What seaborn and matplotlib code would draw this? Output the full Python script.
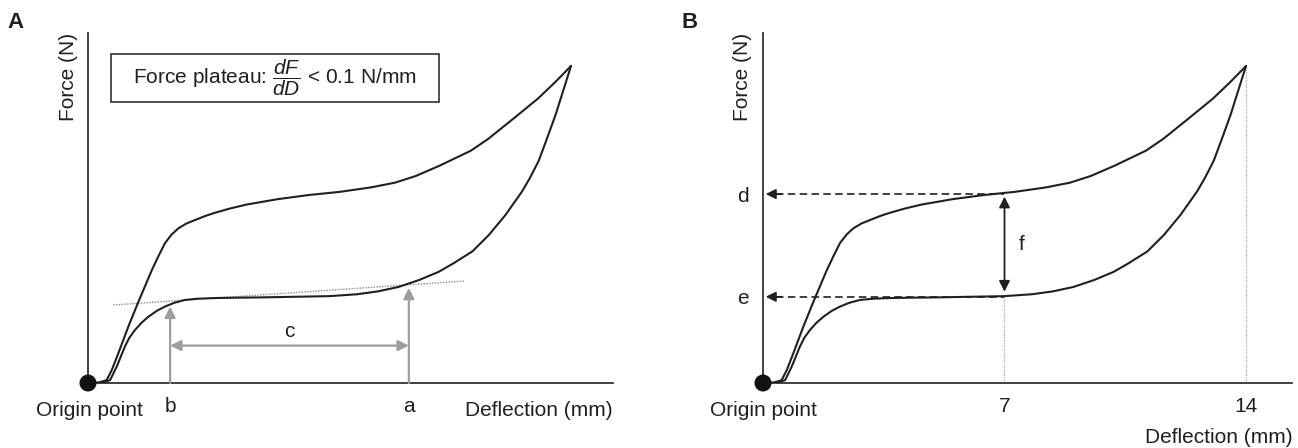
import matplotlib
matplotlib.use("Agg")
import matplotlib.pyplot as plt
import seaborn as sns
import pandas as pd
from matplotlib.patches import Rectangle

# ---------------- data (deflection in mm, force in arbitrary units) ----------------
load_x = [0.0, 0.3, 0.54, 0.69, 0.88, 1.17, 1.46, 1.85, 2.05, 2.23, 2.42, 2.62, 2.85,
          3.1, 3.4, 3.68, 4.1, 4.6, 5.5, 6.4, 7.3, 8.2, 8.9, 9.5, 10.2, 11.1, 11.6,
          12.4, 13.05, 13.55, 14.0]
load_f = [0.0, 0.1, 0.9, 4.1, 9.4, 17.8, 25.6, 35.6, 40.2, 44.1, 46.8, 48.8, 50.3,
          51.4, 52.7, 53.7, 55.0, 56.3, 58.0, 59.3, 60.3, 61.7, 63.2, 65.3, 68.6, 73.3,
          77.0, 84.0, 89.8, 95.0, 100.0]
unload_x = [14.0, 13.84, 13.55, 13.3, 13.06, 12.8, 12.58, 12.1, 11.62, 11.14, 10.6,
            10.17, 9.6, 9.0, 8.4, 7.8, 7.0, 6.0, 5.0, 4.2, 3.68, 3.2, 2.81, 2.5, 2.23,
            2.0, 1.75, 1.55, 1.36, 1.2, 1.07, 0.83, 0.64, 0.4, 0.0]
unload_f = [100.0, 94.5, 84.5, 77.0, 70.0, 64.5, 60.4, 53.0, 46.7, 41.5, 37.8, 35.1,
            32.5, 30.3, 28.9, 28.0, 27.4, 27.2, 27.0, 26.9, 26.8, 26.6, 26.2, 25.3,
            24.1, 22.8, 20.9, 19.0, 16.7, 14.3, 11.5, 5.1, 0.9, 0.1, 0.0]

tangent_x = [0.73, 10.93]
tangent_f = [24.6, 32.2]

plateau_pos = [2.38, 9.30]          # b, a
plateau_labels = ["b", "a"]
plateau_tips = [24.1, 30.0]
c_level = 11.8

b_ticks = [7, 14]
b_tick_labels = ["7", "14"]
guide_tops = [27.2, 100.0]           # dotted guides at 7 and 14
level_values = [59.6, 27.2]          # d, e
level_labels = ["d", "e"]
level_tip_x = 0.08
f_x = 7.0
f_span = [58.8, 28.8]

# ---------------- style ----------------
sns.set_theme(style="white")
plt.rcParams["font.family"] = ["Liberation Sans", "DejaVu Sans"]
plt.rcParams["mathtext.fontset"] = "custom"
plt.rcParams["mathtext.rm"] = "Liberation Sans"
plt.rcParams["mathtext.it"] = "Liberation Sans:italic"

FS = 15
INK = "#231f20"
GRAY = "#9d9d9d"

W, H = 1298, 448
fig = plt.figure(figsize=(W / 100, H / 100), dpi=100)
fig.patch.set_facecolor("white")

px_per_mm = 34.5
px_per_f = 3.17
axA = fig.add_axes([88 / W, 65 / H, 525 / W, 350 / H])
axB = fig.add_axes([763 / W, 65 / H, 529 / W, 350 / H])

load_df = pd.DataFrame({"x": load_x, "f": load_f})
unload_df = pd.DataFrame({"x": unload_x, "f": unload_f})

for ax, wpx in ((axA, 525), (axB, 529)):
    ax.set_facecolor("white")
    sns.lineplot(data=load_df, x="x", y="f", sort=False, estimator=None, color=INK,
                 lw=1.5, ax=ax, zorder=3)
    sns.lineplot(data=unload_df, x="x", y="f", sort=False, estimator=None, color=INK,
                 lw=1.5, ax=ax, zorder=3)
    sns.scatterplot(x=[0.0], y=[0.0], s=150, color="#111111", edgecolor="none",
                    ax=ax, zorder=6, clip_on=False)
    ax.set_xlim(0, wpx / px_per_mm)
    ax.set_ylim(0, 350 / px_per_f)
    for s in ("top", "right"):
        ax.spines[s].set_visible(False)
    for s in ("left", "bottom"):
        ax.spines[s].set_color(INK)
        ax.spines[s].set_linewidth(1.2)
    ax.set_xlabel("")
    ax.set_ylabel("")
    ax.tick_params(axis="both", length=0, labelsize=FS, colors=INK, pad=10)

# ---------------- panel A ----------------
axA.set_yticks([])
axA.set_xticks(plateau_pos, plateau_labels)
sns.lineplot(x=tangent_x, y=tangent_f, ax=axA, color="#8a8a8a", lw=1.0,
             linestyle=(0, (1, 1)), zorder=2)
for xp, tip in zip(plateau_pos, plateau_tips):
    axA.annotate("", xy=(xp, tip), xytext=(xp, 0),
                 arrowprops=dict(arrowstyle="-|>", color=GRAY, lw=1.6,
                                 mutation_scale=16, shrinkA=0, shrinkB=0))
axA.annotate("", xy=(plateau_pos[1], c_level), xytext=(plateau_pos[0], c_level),
             arrowprops=dict(arrowstyle="<|-|>", color=GRAY, lw=1.6,
                             mutation_scale=16, shrinkA=0, shrinkB=0))
axA.text(sum(plateau_pos) / 2, c_level + 1.6, "c", ha="center", va="bottom",
         fontsize=FS, color=INK)

axA.add_patch(Rectangle((0.0433, 0.804), 0.6252, 0.136, transform=axA.transAxes,
                        fill=True, facecolor="white", edgecolor=INK, lw=1.1,
                        clip_on=False, zorder=4))
axA.text(0.356, 0.872, r"Force plateau: $\dfrac{dF}{dD}$ < 0.1 N/mm",
         transform=axA.transAxes, ha="center", va="center", fontsize=FS,
         color=INK, zorder=5)

# ---------------- panel B ----------------
axB.set_xticks(b_ticks, b_tick_labels)
axB.set_yticks(level_values, level_labels)
for xv, top in zip(b_ticks, guide_tops):
    axB.vlines(xv, 0, top, colors="#a8a8a8", lw=0.9, linestyles=(0, (1, 1)), zorder=1)
for lv in level_values:
    axB.hlines(lv, level_tip_x + 0.3, f_x, colors=INK, lw=1.2,
               linestyles=(0, (4.5, 2.6)), zorder=2)
    axB.annotate("", xy=(level_tip_x, lv), xytext=(level_tip_x + 0.45, lv),
                 arrowprops=dict(arrowstyle="-|>", color=INK, lw=1.2,
                                 mutation_scale=15, shrinkA=0, shrinkB=0))
axB.annotate("", xy=(f_x, f_span[0]), xytext=(f_x, f_span[1]),
             arrowprops=dict(arrowstyle="<|-|>", color=INK, lw=1.3,
                             mutation_scale=16, shrinkA=0, shrinkB=0))
axB.text(f_x + 0.5, (f_span[0] + f_span[1]) / 2, "f", ha="center", va="center",
         fontsize=FS, color=INK)

# ---------------- labels ----------------
def ft(xp, yp, s, **kw):
    kw.setdefault("fontsize", FS)
    kw.setdefault("color", INK)
    fig.text(xp / W, 1 - yp / H, s, **kw)

ft(15, 23, "A", fontsize=16, fontweight="bold", ha="center", va="center")
ft(690, 22, "B", fontsize=16, fontweight="bold", ha="center", va="center")
ft(68, 33, "Force (N)", rotation=90, ha="center", va="top")
ft(742, 33, "Force (N)", rotation=90, ha="center", va="top")
ft(89, 410, "Origin point", ha="center", va="center")
ft(763, 410, "Origin point", ha="center", va="center")
ft(613, 410, "Deflection (mm)", ha="right", va="center")
ft(1293, 437, "Deflection (mm)", ha="right", va="center")

fig.savefig("out.png", dpi=100, facecolor="white")
